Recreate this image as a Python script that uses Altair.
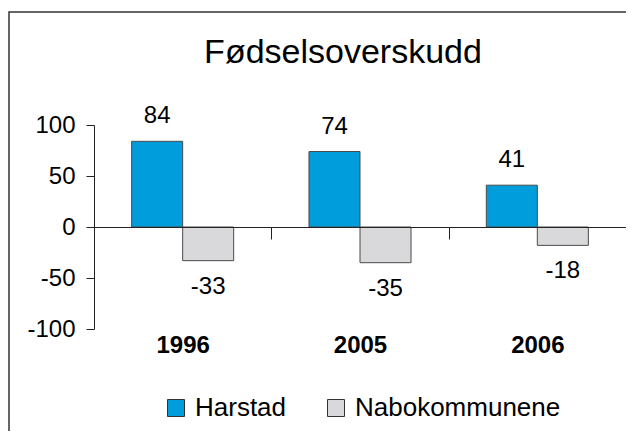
import altair as alt
import pandas as pd

years = ["1996", "2005", "2006"]
series = ["Harstad", "Nabokommunene"]
harstad = [84, 74, 41]
nabokommunene = [-33, -35, -18]
colors = ["#009DDC", "#D9D9DB"]
title_text = "Fødselsoverskudd"

rows = []
for i, yr in enumerate(years):
    rows.append({"year": yr, "serie": series[0], "value": harstad[i]})
    rows.append({"year": yr, "serie": series[1], "value": nabokommunene[i]})
df = pd.DataFrame(rows)

FONT = "Liberation Sans"
W, H = 532, 204

x_enc = alt.X(
    "year:N", sort=years,
    scale=alt.Scale(paddingInner=0, paddingOuter=0),
    axis=alt.Axis(title=None, orient="bottom", offset=-102, tickBand="extent",
                  tickSize=12, labelPadding=94, labelAngle=0, labelFont=FONT,
                  labelFontSize=24, labelFontWeight="bold", labelColor="black",
                  domainColor="#222", tickColor="#222", domainWidth=1, tickWidth=1,
                  zindex=1),
)
xo_enc = alt.XOffset("serie:N", sort=series, scale=alt.Scale(paddingInner=0, paddingOuter=0.738))
y_enc = alt.Y(
    "value:Q",
    scale=alt.Scale(domain=[-100, 100], nice=False),
    axis=alt.Axis(title=None, values=[-100, -50, 0, 50, 100], tickSize=8, labelPadding=11,
                  labelFont=FONT, labelFontSize=24, labelColor="black", grid=False,
                  labelExpr="toString(datum.value)",
                  domainColor="#222", tickColor="#222"),
)

base = alt.Chart(df).transform_calculate(label="toString(datum.value)")

bars = base.mark_bar(stroke="#4a4a4a", strokeWidth=1).encode(
    x=x_enc, xOffset=xo_enc, y=y_enc,
    color=alt.Color("serie:N", sort=series,
                    scale=alt.Scale(domain=series, range=colors),
                    legend=alt.Legend(title=None, orient="none", legendX=69, legendY=270,
                                      direction="horizontal", symbolType="square",
                                      symbolSize=289, symbolStrokeColor="#333",
                                      symbolStrokeWidth=1, symbolOpacity=1,
                                      labelFont=FONT, labelFontSize=26, labelColor="black",
                                      labelLimit=0, labelOffset=6, columnPadding=36)),
)

text_pos = base.mark_text(baseline="alphabetic", dy=-18, font=FONT, fontSize=24, color="black").encode(
    x=x_enc, xOffset=xo_enc, y=y_enc, text="label:N"
).transform_filter("datum.value >= 0")

text_neg = base.mark_text(baseline="top", dy=14, font=FONT, fontSize=24, color="black").encode(
    x=x_enc, xOffset=xo_enc, y=y_enc, text="label:N"
).transform_filter("datum.value < 0")

frame = alt.Chart(pd.DataFrame({"a": [0]})).mark_rect(
    fillOpacity=0, stroke="#333", strokeWidth=1.5
).encode(x=alt.value(-85), x2=alt.value(700), y=alt.value(-113), y2=alt.value(420))

title = alt.Chart(pd.DataFrame({"t": [title_text]})).mark_text(
    font=FONT, fontSize=34, color="black", align="center", baseline="alphabetic"
).encode(x=alt.value(249), y=alt.value(-62), text="t:N")

chart = alt.layer(frame, bars, text_pos, text_neg, title).properties(
    width=W, height=H,
    autosize=alt.AutoSizeParams(type="none"),
    padding={"left": 86, "top": 117, "right": 0, "bottom": 102},
).configure_view(stroke=None)

chart.save("out.html", embed_options={"renderer": "svg", "actions": False})
